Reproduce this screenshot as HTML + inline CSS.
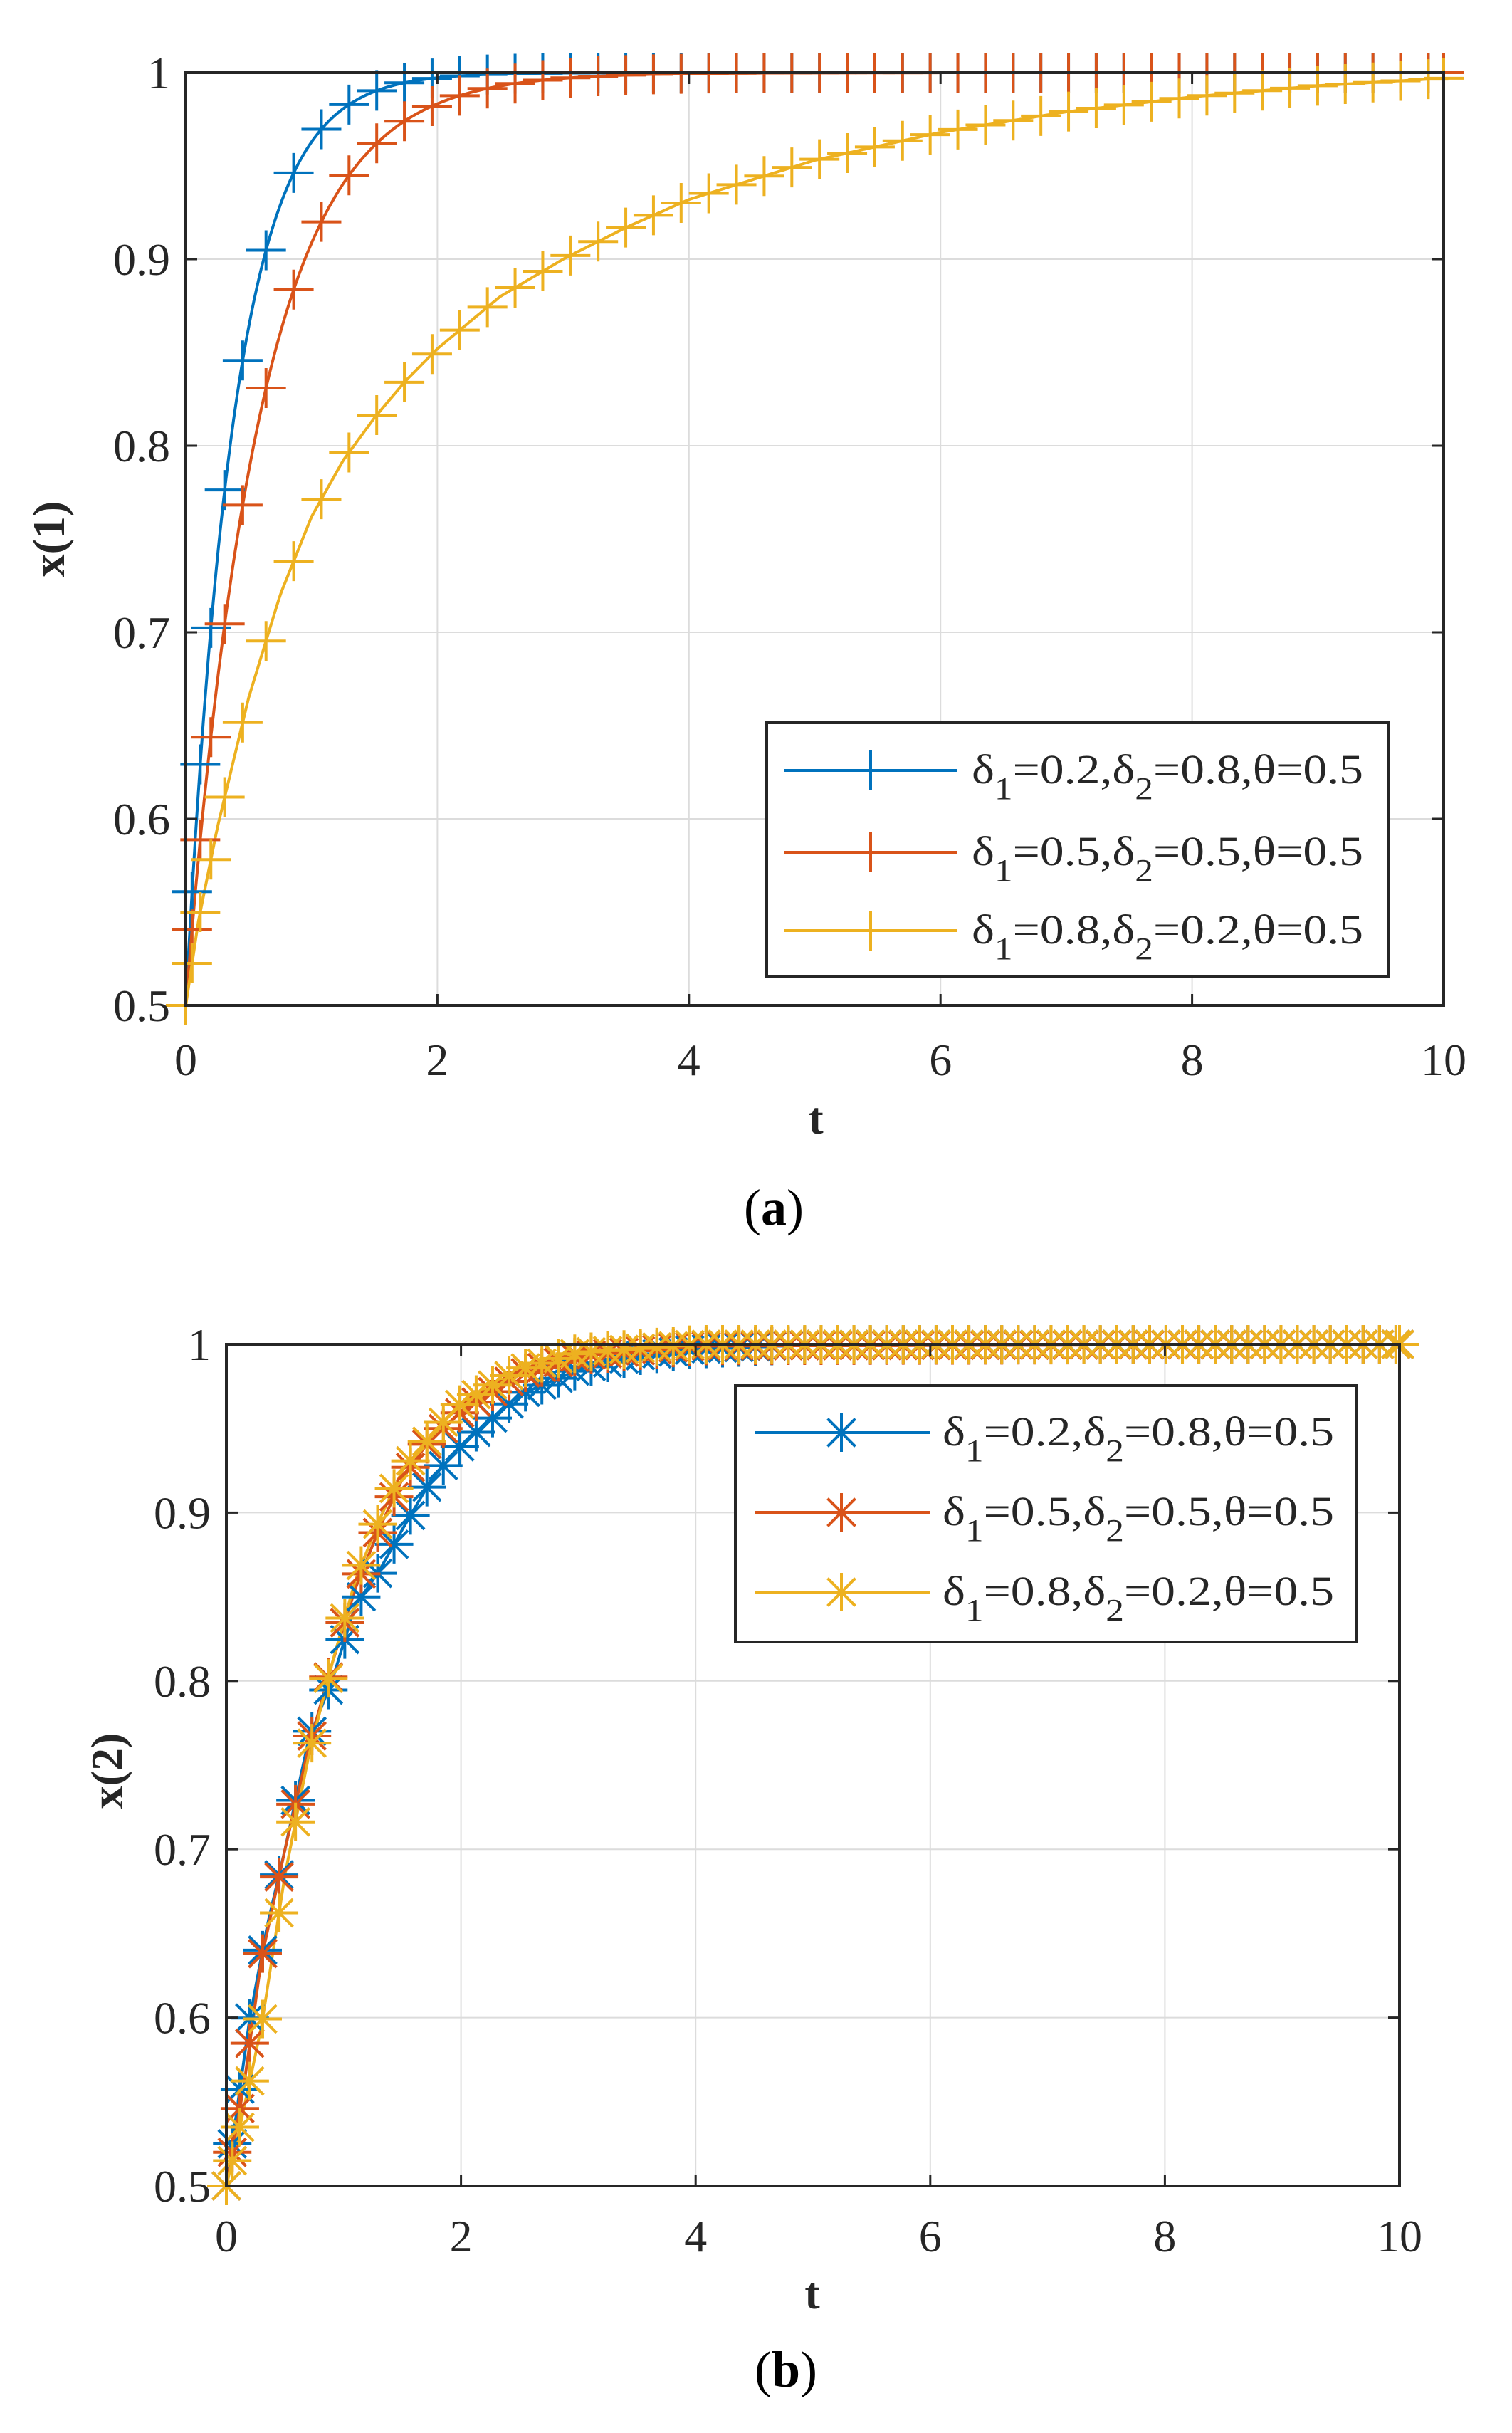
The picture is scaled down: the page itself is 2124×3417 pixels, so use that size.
<!DOCTYPE html>
<html><head><meta charset="utf-8"><style>
html,body{margin:0;padding:0;background:#fff;}
svg{display:block;font-family:"Liberation Serif",serif;}
</style></head><body>
<svg id="s" width="2124" height="3417" viewBox="0 0 2124 3417" xmlns="http://www.w3.org/2000/svg">
<rect width="2124" height="3417" fill="#fff"/>
<text x="1087" y="1720" font-size="72" text-anchor="middle">(<tspan font-weight="bold">a</tspan>)</text>
<text x="1104" y="3352" font-size="72" text-anchor="middle">(<tspan font-weight="bold">b</tspan>)</text>
</svg>
<script>
const S=document.getElementById('s');const NS='http://www.w3.org/2000/svg';
function el(t,a,txt){const e=document.createElementNS(NS,t);for(const k in a)e.setAttribute(k,a[k]);if(txt!=null)e.textContent=txt;S.appendChild(e);return e;}
function interp(tab,t){if(t<=tab[0][0])return tab[0][1];for(let i=1;i<tab.length;i++){if(t<=tab[i][0]){const a=tab[i-1],b=tab[i];return a[1]+(b[1]-a[1])*(t-a[0])/(b[0]-a[0]);}}return tab[tab.length-1][1];}
const C=['#0072BD','#D95319','#EDB120'];
function marker(type,x,y,c,r){
  let d=`M${x-r},${y}H${x+r}M${x},${y-r}V${y+r}`;
  if(type==='*'){const q=r*0.72;d+=`M${x-q},${y-q}L${x+q},${y+q}M${x-q},${y+q}L${x+q},${y-q}`;}
  el('path',{d:d,stroke:c,'stroke-width':4,fill:'none'});
}
function plot(P){
  const {L,R,T,B}=P;const X=t=>L+(R-L)*t/10,Y=v=>B-(B-T)*(v-0.5)/0.5;
  for(let i=1;i<5;i++){el('line',{x1:X(i*2),x2:X(i*2),y1:T,y2:B,stroke:'#dcdcdc','stroke-width':2});}
  for(let i=1;i<5;i++){const y=Y(0.5+i*0.1);el('line',{x1:L,x2:R,y1:y,y2:y,stroke:'#dcdcdc','stroke-width':2});}
  P.series.forEach((f,si)=>{
    let pts=[];for(let t=0;t<=10.0001;t+=0.02)pts.push(X(t).toFixed(1)+','+Y(f(t)).toFixed(1));
    el('polyline',{points:pts.join(' '),fill:'none',stroke:C[si],'stroke-width':4});
  });
  P.series.forEach((f,si)=>{
    let t=0,dt=P.dt0;while(t<=10.0001){marker(P.mk,X(t),Y(f(t)),C[si],P.mr);t+=dt;dt=Math.min(dt*1.3,P.dtmax);}
    marker(P.mk,X(10),Y(f(10)),C[si],P.mr);
  });
  el('rect',{x:L,y:T,width:R-L,height:B-T,fill:'none',stroke:'#262626','stroke-width':4});
  for(let i=0;i<=5;i++){const x=X(i*2);el('line',{x1:x,x2:x,y1:B,y2:B-16,stroke:'#262626','stroke-width':3});el('line',{x1:x,x2:x,y1:T,y2:T+16,stroke:'#262626','stroke-width':3});
    el('text',{x:x,y:P.xty,'font-size':64,'text-anchor':'middle',fill:'#262626'},String(i*2));}
  const yl=['0.5','0.6','0.7','0.8','0.9','1'];
  for(let i=0;i<=5;i++){const y=Y(0.5+i*0.1);el('line',{x1:L,x2:L+16,y1:y,y2:y,stroke:'#262626','stroke-width':3});el('line',{x1:R,x2:R-16,y1:y,y2:y,stroke:'#262626','stroke-width':3});
    el('text',{x:L-22,y:y+22,'font-size':64,'text-anchor':'end',fill:'#262626'},yl[i]);}
  el('text',{x:P.tx,y:P.ty,'font-size':64,'font-weight':'bold','text-anchor':'middle',fill:'#262626'},'t');
  el('text',{x:P.ylx,y:P.yly,'font-size':64,'font-weight':'bold','text-anchor':'middle',fill:'#262626',transform:`rotate(-90 ${P.ylx} ${P.yly})`},P.ylab);
  const g=P.lg;el('rect',{x:g.x1,y:g.y1,width:g.x2-g.x1,height:g.y2-g.y1,fill:'#fff',stroke:'#262626','stroke-width':4});
  const labs=[['0.2','0.8'],['0.5','0.5'],['0.8','0.2']];
  g.rows.forEach((ry,i)=>{
    el('line',{x1:g.l1,x2:g.l2,y1:ry,y2:ry,stroke:C[i],'stroke-width':4});
    marker(P.mk,g.m,ry,C[i],P.mr);
    const t=el('text',{x:g.tx,y:ry+18,'font-size':58,fill:'#262626',textLength:g.tw,lengthAdjust:'spacingAndGlyphs'});
    t.innerHTML=`δ<tspan dy="22" font-size="44">1</tspan><tspan dy="-22">=${labs[i][0]},δ</tspan><tspan dy="22" font-size="44">2</tspan><tspan dy="-22">=${labs[i][1]},θ=0.5</tspan>`;
  });
}
const ya=[[0,.5],[.1,.545],[.25,.595],[.5,.665],[.75,.72],[1,.762],[1.25,.792],[1.5,.815],[1.75,.835],[2,.852],[2.5,.88],[3,.9],[3.5,.917],[4,.932],[5,.953],[6,.968],[7,.979],[8,.987],[9,.993],[10,.997]];
plot({L:261,R:2028,T:102,B:1412,mk:'+',mr:28,dt0:0.05,dtmax:0.22,xty:1510,tx:1146,ty:1592,ylx:90,yly:757,ylab:'x(1)',
 series:[t=>1-0.5*Math.exp(-2.6*t),t=>1-0.5*Math.exp(-1.7*t),t=>interp(ya,t)],
 lg:{x1:1077,x2:1950,y1:1015,y2:1372,rows:[1082,1197,1307],l1:1101,l2:1344,m:1223,tx:1365,tw:550}});
const b1=[[0,.5],[.2,.6],[.35,.655],[.5,.7],[.7,.765],[.9,.8],[1.1,.845],[1.3,.865],[1.5,.89],[1.75,.92],[2,.94],[2.5,.97],[3,.985],[3.5,.993],[4,.997],[5,1],[10,1]];
const b2=[[0,.5],[.15,.56],[.3,.635],[.5,.7],[.7,.76],[.9,.81],[1.1,.855],[1.3,.89],[1.5,.92],[1.7,.94],[2,.96],[2.5,.982],[3,.993],[4,.999],[10,1]];
const b3=[[0,.5],[.1,.53],[.3,.595],[.5,.685],[.7,.755],[.9,.81],[1.1,.86],[1.3,.895],[1.5,.925],[1.8,.95],[2,.965],[2.5,.985],[3,.995],[4,1],[10,1]];
plot({L:318,R:1966,T:1888,B:3070,mk:'*',mr:27,dt0:0.05,dtmax:0.14,xty:3162,tx:1141,ty:3242,ylx:172,yly:2487,ylab:'x(2)',
 series:[t=>interp(b1,t),t=>interp(b2,t),t=>interp(b3,t)],
 lg:{x1:1033,x2:1906,y1:1946,y2:2306,rows:[2012,2124,2236],l1:1060,l2:1307,m:1182,tx:1324,tw:550}});
</script>
</body></html>
